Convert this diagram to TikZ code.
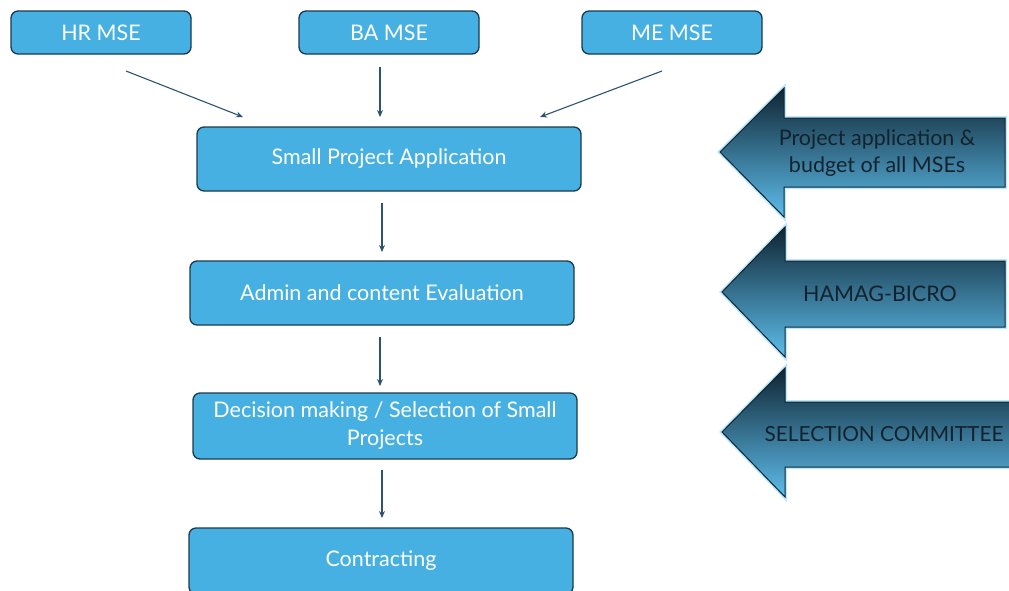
\documentclass[tikz,border=0pt]{standalone}
\usepackage{fontspec}
\setmainfont{Lato}
\usetikzlibrary{arrows.meta}
\definecolor{boxfill}{HTML}{45B0E1}
\definecolor{boxline}{HTML}{1B3A4B}
\definecolor{conn}{HTML}{2B5470}
\definecolor{adark}{HTML}{0F2533}
\definecolor{alight}{HTML}{5DBDEB}
\definecolor{aglow}{HTML}{8ED8F8}
\definecolor{atext}{HTML}{14222E}
\tikzset{
  box/.style={draw=boxline, line width=1.3pt, fill=boxfill, rounded corners=7pt,
    text=white, font=\fontsize{21.5}{28}\selectfont, align=center, inner sep=0pt},
  conn/.style={draw=conn, line width=1.1pt, -{Stealth[length=7pt,width=6pt]}},
  blockarrow/.style={draw=adark, line width=1pt, top color=adark, bottom color=alight, shading angle=0},
  glow/.style={draw=aglow, line width=4pt, opacity=0.6, line join=miter},
  atxt/.style={text=atext, font=\fontsize{21.5}{27}\selectfont, align=center}
}
\begin{document}
\begin{tikzpicture}[x=1pt,y=-1pt]
\useasboundingbox (0,0) rectangle (1009,590);
% top boxes
\node[box, minimum width=180pt, minimum height=43pt] (hr) at (101,32.5) {HR MSE};
\node[box, minimum width=180pt, minimum height=43pt] (ba) at (389,32.5) {BA MSE};
\node[box, minimum width=180pt, minimum height=43pt] (me) at (672,32.5) {ME MSE};
% main column
\node[box, minimum width=384pt, minimum height=64pt] (spa) at (389,159) {Small Project Application};
\node[box, minimum width=384pt, minimum height=64pt] (adm) at (382,293) {Admin and content Evaluation};
\node[box, minimum width=384pt, minimum height=66pt] (dec) at (385,426) {Decision making / Selection of Small\\Projects};
\node[box, minimum width=384pt, minimum height=66pt] (con) at (381,561) {Contracting};
% connector end coordinates
\coordinate (hrs) at (126,71);  \coordinate (hre) at (243,117);
\coordinate (bas) at (380,67);  \coordinate (bae) at (380,117);
\coordinate (mes) at (662,71);  \coordinate (mee) at (540,117);
\coordinate (c1s) at (382,203); \coordinate (c1e) at (382,252);
\coordinate (c2s) at (380,337); \coordinate (c2e) at (380,386);
\coordinate (c3s) at (382,470); \coordinate (c3e) at (382,518);
\draw[conn] (hrs) -- (hre);
\draw[conn] (bas) -- (bae);
\draw[conn] (mes) -- (mee);
\draw[conn] (c1s) -- (c1e);
\draw[conn] (c2s) -- (c2e);
\draw[conn] (c3s) -- (c3e);
% right block arrows
\foreach \yt/\yb/\st/\sb/\xt/\xh/\ty/\xr in {
  152/88/118/187/720/784/217/1005,
  292/227/261/327/722/785/357/1005,
  432/368/402/467/722/785/497/1016}{
  \draw[glow] (\xt,\yt) -- (\xh,\yb) -- (\xh,\st) -- (\xr,\st) -- (\xr,\sb) -- (\xh,\sb) -- (\xh,\ty) -- cycle;
  \draw[blockarrow] (\xt,\yt) -- (\xh,\yb) -- (\xh,\st) -- (\xr,\st) -- (\xr,\sb) -- (\xh,\sb) -- (\xh,\ty) -- cycle;
}
\node[atxt] (t1) at (877,153) {Project application \&\\budget of all MSEs};
\node[atxt] (t2) at (880,294) {HAMAG-BICRO};
\node[atxt, font=\fontsize{20.8}{27}\selectfont] (t3) at (884,434) {SELECTION COMMITTEE};
\end{tikzpicture}
\end{document}
